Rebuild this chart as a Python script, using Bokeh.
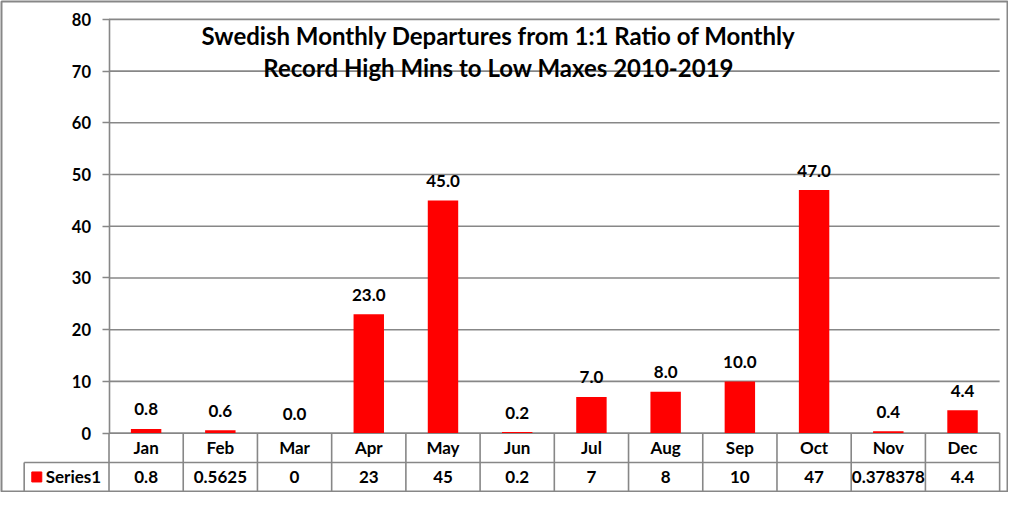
import numpy as np
from bokeh.plotting import figure
from bokeh.models import Range1d, LinearAxis, FixedTicker
from bokeh.core.properties import value
from bokeh.embed import file_html
from bokeh.resources import INLINE

# ---- data ----
months = ["Jan", "Feb", "Mar", "Apr", "May", "Jun", "Jul", "Aug", "Sep", "Oct", "Nov", "Dec"]
series1 = [0.8, 0.5625, 0, 23, 45, 0.2, 7, 8, 10, 47, 0.378378, 4.4]
y_ticks = [0, 10, 20, 30, 40, 50, 60, 70, 80]
series_name = "Series1"
title_lines = ["Swedish Monthly Departures from 1:1 Ratio of Monthly",
               "Record High Mins to Low Maxes 2010-2019"]

FONT = value("Lato")
GRID = "#878787"
RED = "#ff0000"
TXT = "17px"

n = len(months)
xc = np.arange(n) + 0.5

# table layout (data units)
row_split = -5.67
tbl_bottom = -11.29
legend_left = -1.143

p = figure(width=1008, height=492, output_backend="svg", toolbar_location=None,
           x_range=Range1d(-1.4485, 12.106), y_range=Range1d(-11.29, 83.46),
           x_axis_location=None, y_axis_location=None, min_border=1,
           background_fill_color="white", border_fill_color="white")
p.outline_line_color = GRID
p.outline_line_width = 2
p.xgrid.visible = False
p.ygrid.visible = False

# gridlines over plot area
p.segment(x0=0, x1=n, y0=y_ticks, y1=y_ticks, line_color=GRID, line_width=1.6)

# y axis
yax = LinearAxis(fixed_location=0, bounds=(0, 80), ticker=FixedTicker(ticks=y_ticks))
yax.axis_line_color = GRID
yax.axis_line_width = 1.6
yax.major_tick_line_color = GRID
yax.major_tick_line_width = 1.6
yax.major_tick_out = 7
yax.major_tick_in = 0
yax.minor_tick_out = 0
yax.minor_tick_in = 0
yax.major_label_standoff = 11
yax.major_label_text_font = "Lato"
yax.major_label_text_font_style = "bold"
yax.major_label_text_font_size = "16.5px"
yax.major_label_text_color = "black"
p.add_layout(yax, "left")

# bars
p.vbar(x=xc, top=series1, width=0.41, fill_color=RED, line_color=None)

# data labels
p.text(x=xc, y=series1, text=[f"{v:.1f}" for v in series1], y_offset=-19.5,
       text_align="center", text_baseline="middle", text_font=FONT,
       text_font_style="bold", text_font_size=TXT, text_color="black")

# data table lines
bounds = np.arange(n + 1)
p.segment(x0=bounds, x1=bounds, y0=0, y1=tbl_bottom, line_color=GRID, line_width=1.6)
p.segment(x0=[legend_left], x1=[n], y0=[row_split], y1=[row_split], line_color=GRID, line_width=1.6)
p.segment(x0=[legend_left], x1=[legend_left], y0=[row_split], y1=[tbl_bottom], line_color=GRID, line_width=1.6)

# table text
p.text(x=xc, y=(0 + row_split) / 2, text=months, text_align="center", text_baseline="middle",
       text_font=FONT, text_font_style="bold", text_font_size=TXT, text_color="black")
p.text(x=xc, y=(row_split + tbl_bottom) / 2, text=[f"{v:g}" for v in series1],
       text_align="center", text_baseline="middle",
       text_font=FONT, text_font_style="bold", text_font_size=TXT, text_color="black")

# legend key in table
p.scatter(x=[legend_left + 0.17], y=[(row_split + tbl_bottom) / 2], marker="square", size=10,
          fill_color=RED, line_color=RED)
p.text(x=[legend_left + 0.29], y=[(row_split + tbl_bottom) / 2], text=[series_name],
       text_align="left", text_baseline="middle",
       text_font=FONT, text_font_style="bold", text_font_size=TXT, text_color="black")

# title
p.text(x=[5.25, 5.25], y=[76.9, 70.7], text=title_lines, text_align="center",
       text_baseline="middle", text_font=FONT, text_font_style="bold",
       text_font_size="24px", text_color="black")

open("out.html", "w").write(file_html(p, INLINE))
